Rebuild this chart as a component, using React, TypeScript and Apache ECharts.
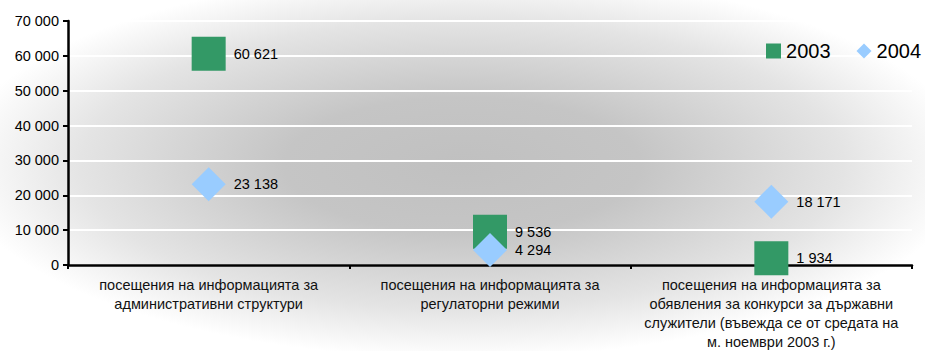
import React, { useEffect, useRef } from "react";
import * as echarts from "echarts";

const categories = [
  "посещения на информацията за\nадминистративни структури",
  "посещения на информацията за\nрегулаторни режими",
  "посещения на информацията за\nобявления за конкурси за държавни\nслужители (въвежда се от средата на\nм. ноември 2003 г.)",
];
const values2003 = [60621, 9536, 1934];
const values2004 = [23138, 4294, 18171];
const seriesNames = ["2003", "2004"];

const FONT = '"Liberation Sans", Arial, sans-serif';

const fmt = (v: number) =>
  String(Math.round(v)).replace(/\B(?=(\d{3})+(?!\d))/g, " ");

export default function App() {
  const ref = useRef<HTMLDivElement>(null);

  useEffect(() => {
    if (!ref.current) return;
    const chart = echarts.init(ref.current, undefined, { renderer: "svg" });
    const label = {
      show: true,
      position: "right" as const,
      distance: 8,
      color: "#000",
      fontFamily: FONT,
      fontSize: 14.5,
      formatter: (p: any) => fmt(p.value),
    };
    chart.setOption({
      animation: false,
      backgroundColor: "#ffffff",
      graphic: {
        elements: [
          {
            type: "rect",
            z: -100,
            silent: true,
            shape: { x: 0, y: 0, width: 925, height: 351 },
            style: {
              fill: new echarts.graphic.RadialGradient(0.5, 0.47, 0.55, [
                { offset: 0, color: "#c0c0c0" },
                { offset: 0.35, color: "#c5c5c5" },
                { offset: 0.75, color: "#e4e4e4" },
                { offset: 1, color: "#ffffff" },
              ]),
            },
          },
        ],
      },
      legend: {
        right: -1,
        top: 36,
        itemWidth: 15,
        itemHeight: 15,
        itemGap: 26,
        textStyle: { fontFamily: FONT, fontSize: 20, color: "#000" },
        data: [
          { name: seriesNames[0], icon: "rect" },
          { name: seriesNames[1], icon: "diamond" },
        ],
      },
      grid: { left: 68, right: 13, top: 21, bottom: 86, outerBoundsMode: "none", containLabel: false },
      xAxis: {
        type: "category",
        data: categories,
        boundaryGap: true,
        axisLine: { lineStyle: { color: "#000", width: 2.5 } },
        axisTick: { show: true, length: 4, lineStyle: { color: "#000", width: 2 } },
        axisLabel: {
          interval: 0,
          margin: 10,
          fontFamily: FONT,
          fontSize: 14.5,
          lineHeight: 19,
          color: "#111",
          align: "center",
        },
        splitLine: { show: false },
      },
      yAxis: {
        type: "value",
        min: 0,
        max: 70000,
        interval: 10000,
        axisLine: { show: true, lineStyle: { color: "#000", width: 2.5 } },
        axisTick: { show: true, length: 5, lineStyle: { color: "#000", width: 2 } },
        axisLabel: {
          margin: 9,
          fontFamily: FONT,
          fontSize: 14.5,
          color: "#000",
          formatter: (v: number) => fmt(v),
        },
        splitLine: { show: true, lineStyle: { color: "#ffffff", width: 2 } },
      },
      series: [
        {
          name: seriesNames[0],
          type: "scatter",
          symbol: "rect",
          symbolSize: 34,
          itemStyle: { color: "#339966", opacity: 1 },
          label,
          data: values2003,
        },
        {
          name: seriesNames[1],
          type: "scatter",
          symbol: "diamond",
          symbolSize: 34,
          itemStyle: { color: "#99ccff", opacity: 1 },
          label,
          data: values2004,
        },
      ],
    });
    return () => chart.dispose();
  }, []);

  return <div ref={ref} style={{ width: 925, height: 351, position: "absolute", left: 0, top: 0 }} />;
}
